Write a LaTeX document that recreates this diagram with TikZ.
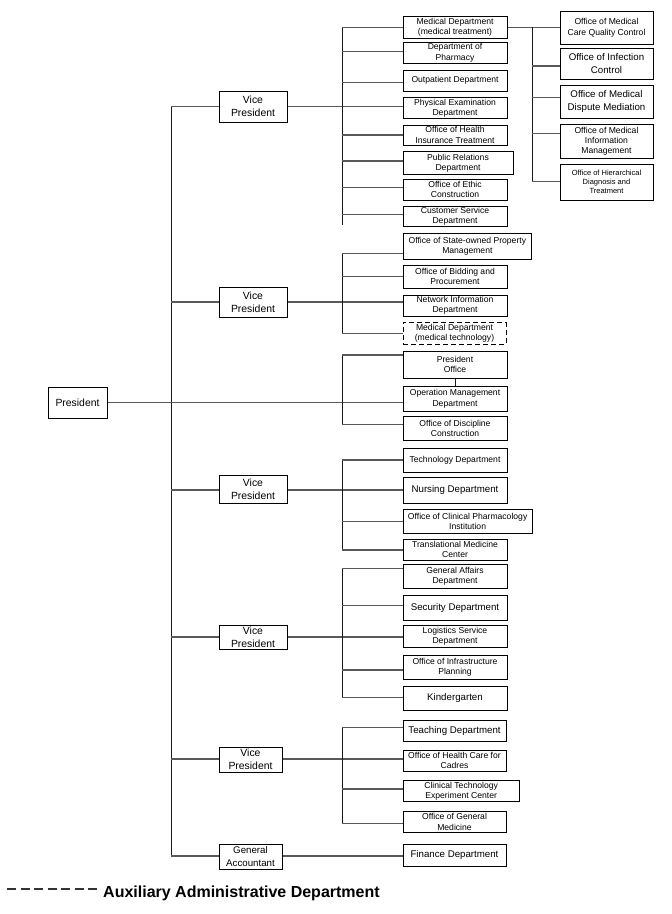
\documentclass[tikz,border=0pt]{standalone}
\usepackage{fontspec}
\setmainfont{Liberation Sans}
\begin{document}
\begin{tikzpicture}[x=1pt,y=-1pt,
  boxs/.style={draw=black,line width=1pt,rectangle,inner sep=0pt,align=center,fill=white},
  fsmall/.style={font=\fontsize{8.6}{10.4}\selectfont},
  flarge/.style={font=\fontsize{9.7}{12.6}\selectfont},
  fvp/.style={font=\fontsize{10.4}{12.8}\selectfont},
  ftiny/.style={font=\fontsize{7.5}{9}\selectfont},
  conn/.style={draw=black!65,line width=1.5pt},
  bus/.style={draw=black!90,line width=1pt},
  dashbox/.style={dash pattern=on 5pt off 3pt}]
\useasboundingbox (0,0) rectangle (672,914);
\newcommand{\obox}[7]{\node[boxs,#6,minimum width={#4-#2},minimum height={#5-#3}] (#1) at ({(#2+#4)/2},{(#3+#5)/2}) {#7};}

% ---- bus coordinates
\coordinate (t1) at (171,106.7);
\coordinate (t2) at (171,302);
\coordinate (t3) at (171,490);
\coordinate (t4) at (171,637);
\coordinate (t5) at (171,759);
\coordinate (t6) at (171,856);

\coordinate (a1) at (342,27.3);
\coordinate (a2) at (342,51.7);
\coordinate (a3) at (342,82.3);
\coordinate (a4) at (342,135);
\coordinate (a5) at (342,161);
\coordinate (a6) at (342,187.7);
\coordinate (a7) at (342,214.3);
\coordinate (a8) at (342,225);

\coordinate (r1) at (532,27.3);
\coordinate (r2) at (532,66);
\coordinate (r3) at (532,97.3);
\coordinate (r4) at (532,133.3);
\coordinate (r5) at (532,181.7);

\coordinate (b1) at (342,253.3);
\coordinate (b2) at (342,276.7);
\coordinate (b4) at (342,333.3);

\coordinate (c1) at (342,355);
\coordinate (c3) at (342,424.3);

\coordinate (d1) at (342,460);
\coordinate (d3) at (342,521.7);
\coordinate (d4) at (342,550);

\coordinate (e1) at (342,568.3);
\coordinate (e2) at (342,605.7);
\coordinate (e4) at (342,670);
\coordinate (e5) at (342,697.7);

\coordinate (f1) at (342,727.7);
\coordinate (f3) at (342,789);
\coordinate (f4) at (342,823.3);

% ---- left column
\obox{pres}{48}{387}{107}{418}{fvp}{President}
\obox{vp1}{219}{91}{287}{122}{fvp}{Vice\\President}
\obox{vp2}{219}{287}{287}{317}{fvp}{Vice\\President}
\obox{vp3}{219}{475}{287}{503}{fvp}{Vice\\President}
\obox{vp4}{219}{625}{287}{649}{fvp}{Vice\\President}
\obox{vp5}{219}{747}{282}{772}{fvp}{Vice\\President}
\obox{gac}{219}{844}{282}{869}{flarge}{General\\Accountant}

% ---- group 1
\obox{md}{403}{16.7}{507}{38.3}{fsmall}{Medical Department\\(medical treatment)}
\obox{ph}{403}{42.3}{507}{63.3}{fsmall}{Department of\\Pharmacy}
\obox{op}{403}{70}{507}{91}{fsmall}{Outpatient Department}
\obox{pe}{403}{97.7}{507}{118.3}{fsmall}{Physical Examination\\Department}
\obox{hi}{403}{125}{507}{145}{fsmall}{Office of Health\\Insurance Treatment}
\obox{pr}{403}{151.7}{513}{174.3}{fsmall}{Public Relations\\Department}
\obox{ec}{403}{179}{507}{200}{fsmall}{Office of Ethic\\Construction}
\obox{cs}{403}{206}{507}{226.7}{fsmall}{Customer Service\\Department}

\obox{qc}{560}{11}{653}{44.3}{fsmall}{Office of Medical\\Care Quality Control}
\obox{ic}{560}{48.3}{653}{79}{flarge}{Office of Infection\\Control}
\obox{dm}{560}{85}{653}{118.3}{flarge}{Office of Medical\\Dispute Mediation}
\obox{im}{560}{124.3}{653}{158.3}{fsmall}{Office of Medical\\Information\\Management}
\obox{hd}{560}{164.3}{653}{200}{ftiny}{Office of Hierarchical\\Diagnosis and\\Treatment}

% ---- group 2
\obox{sop}{403}{233.3}{531.7}{259.3}{fsmall}{Office of State-owned Property\\Management}
\obox{bp}{403}{265}{507}{288.3}{fsmall}{Office of Bidding and\\Procurement}
\obox{ni}{403}{295}{507}{316}{fsmall}{Network Information\\Department}
\obox{mt}{403}{322.7}{506}{344}{fsmall,dashbox}{Medical Department\\(medical technology)}

% ---- group 3
\obox{po}{403}{351}{507}{378.3}{fsmall}{President\\Office}
\obox{om}{403}{386}{507}{411.7}{fsmall}{Operation Management\\Department}
\obox{dc}{403}{416.7}{507}{440}{fsmall}{Office of Discipline\\Construction}

% ---- group 4
\obox{td}{403}{448.3}{507}{472.3}{fsmall}{Technology Department}
\obox{nd}{403}{477.3}{507}{503.3}{flarge}{Nursing Department}
\obox{cp}{403}{509}{532.3}{533.3}{fsmall}{Office of Clinical Pharmacology\\Institution}
\obox{tm}{403}{539}{507}{560}{fsmall}{Translational Medicine\\Center}

% ---- group 5
\obox{gad}{403}{564.3}{507}{588.3}{fsmall}{General Affairs\\Department}
\obox{sd}{403}{595}{507}{620}{flarge}{Security Department}
\obox{ls}{403}{625}{507}{647.7}{fsmall}{Logistics Service\\Department}
\obox{ip}{403}{655}{507}{679.3}{fsmall}{Office of Infrastructure\\Planning}
\obox{kg}{403}{686.7}{507}{710}{flarge}{Kindergarten}

% ---- group 6
\obox{te}{403}{720}{506}{741}{flarge}{Teaching Department}
\obox{hc}{403}{750}{506}{771}{fsmall}{Office of Health Care for\\Cadres}
\obox{ct}{403}{780.7}{519.3}{801.7}{fsmall}{Clinical Technology\\Experiment Center}
\obox{gm}{403}{811.7}{506}{832.3}{fsmall}{Office of General\\Medicine}

\obox{fd}{403}{844.3}{506}{866}{flarge}{Finance Department}

% ---- trunk and VP links
\draw[bus] (t1) -- (t6);
\foreach \t/\v in {t1/vp1,t2/vp2,t3/vp3,t4/vp4,t5/vp5,t6/gac}
  \draw[conn] (\t) -- (\t -| \v.west);
\draw[conn] (pres.east) -- (pres.east -| om.west);
\draw[conn] (vp1.east |- t1) -- (t1 -| pe.west);
\draw[conn] (vp2.east |- t2) -- (t2 -| ni.west);
\draw[conn] (vp3.east |- t3) -- (t3 -| nd.west);
\draw[conn] (vp4.east |- t4) -- (t4 -| ls.west);
\draw[conn] (vp5.east |- t5) -- (t5 -| hc.west);
\draw[conn] (gac.east |- t6) -- (t6 -| fd.west);

% ---- group 1
\draw[bus] (a1) -- (a8);
\foreach \a/\n in {a1/md,a2/ph,a3/op,a4/hi,a5/pr,a6/ec,a7/cs}
  \draw[conn] (\a) -- (\a -| \n.west);
\draw[conn] (md.east |- r1) -- (r1) -- (r1 -| qc.west);
\draw[bus] (r1) -- (r5);
\foreach \r/\n in {r2/ic,r3/dm,r4/im,r5/hd}
  \draw[conn] (\r) -- (\r -| \n.west);

% ---- group 2
\draw[bus] (b1) -- (b4);
\foreach \b/\n in {b1/sop,b2/bp,b4/mt}
  \draw[conn] (\b) -- (\b -| \n.west);

% ---- group 3
\draw[bus] (c1) -- (c3);
\foreach \c/\n in {c1/po,c3/dc}
  \draw[conn] (\c) -- (\c -| \n.west);
\draw[bus] (po.south) -- (om.north);

% ---- group 4
\draw[bus] (d1) -- (d4);
\foreach \d/\n in {d1/td,d3/cp,d4/tm}
  \draw[conn] (\d) -- (\d -| \n.west);

% ---- group 5
\draw[bus] (e1) -- (e5);
\foreach \e/\n in {e1/gad,e2/sd,e4/ip,e5/kg}
  \draw[conn] (\e) -- (\e -| \n.west);

% ---- group 6
\draw[bus] (f1) -- (f4);
\foreach \f/\n in {f1/te,f3/ct,f4/gm}
  \draw[conn] (\f) -- (\f -| \n.west);

% ---- legend
\coordinate (lg1) at (7,889);
\coordinate (lg2) at (97,889);
\draw[black!80,line width=1.2pt,dash pattern=on 9pt off 4.5pt] (lg1) -- (lg2);
\node[anchor=base west,inner sep=0pt,font=\fontsize{16}{19}\selectfont\bfseries] (legend) at (103,897) {Auxiliary Administrative Department};
\end{tikzpicture}
\end{document}
